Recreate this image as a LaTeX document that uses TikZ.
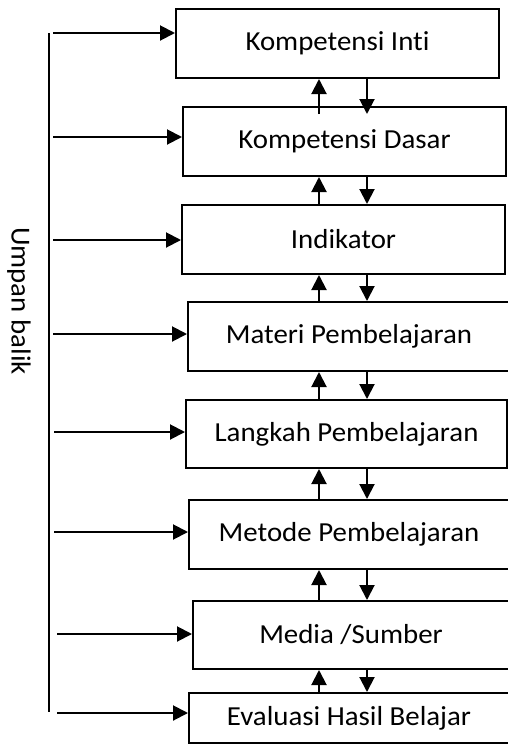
\documentclass[tikz,border=0pt]{standalone}
\usepackage{fontspec}
\setmainfont[FakeStretch=1.05,Ligatures={NoCommon}]{Carlito}
\usetikzlibrary{arrows.meta}
\begin{document}
\begin{tikzpicture}[x=1pt,y=-1pt,
  box/.style={draw=black, line width=2pt, fill=white, inner sep=0pt,
    font=\fontsize{27.5}{32}\selectfont},
  arr/.style={line width=2pt, -{Triangle[length=15pt,width=15pt]}},
  plain/.style={line width=2pt}]
\useasboundingbox (0,0) rectangle (508,745);
% boxes
\node[box, minimum width=323pt, minimum height=69pt] (b1) at (337.5,43.5) {Kompetensi Inti};
\node[box, minimum width=323pt, minimum height=69pt] (b2) at (344.5,141.5) {Kompetensi Dasar};
\node[box, minimum width=323pt, minimum height=69pt] (b3) at (343.5,239.5) {Indikator};
\node[box, minimum width=322pt, minimum height=69pt] (b4) at (349,336.5) {Materi Pembelajaran};
\node[box, minimum width=321pt, minimum height=68pt] (b5) at (346.5,434) {Langkah Pembelajaran};
\node[box, minimum width=320pt, minimum height=69pt] (b6) at (349,534.5) {Metode Pembelajaran};
\node[box, minimum width=316pt, minimum height=68pt] (b7) at (351,635) {Media /Sumber};
\node[box, minimum width=320pt, minimum height=50pt] (b8) at (349,718) {Evaluasi Hasil Belajar};
% feedback label
\node[font=\fontsize{27.5}{32}\selectfont, rotate=-90, inner sep=0pt] (ub) at (19,301) {Umpan balik};
% vertical feedback line
\coordinate (vt) at (49,33);
\coordinate (vb) at (49,712);
\draw[plain] (vt) -- (vb);
% horizontal arrows
\coordinate (l1) at (53,33);
\coordinate (l2) at (53,137);
\coordinate (l3) at (53,240);
\coordinate (l4) at (53,334);
\coordinate (l5) at (54,432);
\coordinate (l6) at (54,532);
\coordinate (l7) at (57,634);
\coordinate (l8) at (57,713);
\foreach \i in {1,...,8} {
  \draw[arr] (l\i) -- (l\i -| b\i.west);
}
% vertical arrows between boxes
\coordinate (u) at (319,0);
\coordinate (d) at (367,0);
\draw[arr, shorten <=-8pt] (b2.north -| u) -- (b1.south -| u);
\draw[arr, shorten >=-8pt] (b1.south -| d) -- (b2.north -| d);
\foreach \a/\b in {2/3,3/4,4/5,5/6,6/7,7/8} {
  \draw[arr] (b\b.north -| u) -- (b\a.south -| u);
  \draw[arr] (b\a.south -| d) -- (b\b.north -| d);
}
\end{tikzpicture}
\end{document}
